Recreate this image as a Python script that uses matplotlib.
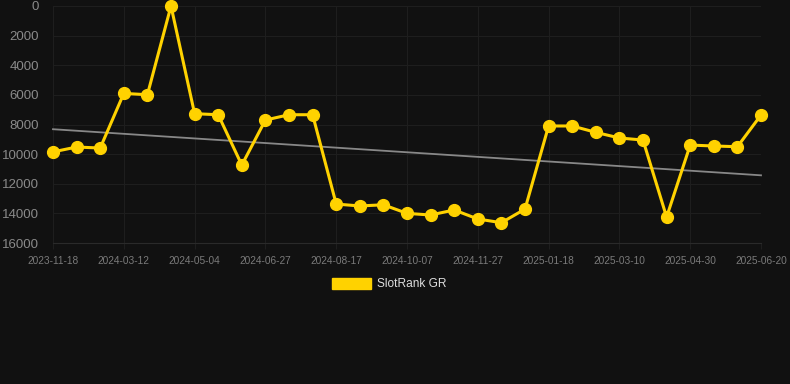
import numpy as np
import matplotlib
matplotlib.use('Agg')
import matplotlib.pyplot as plt
from matplotlib.patches import Patch

# dados (rank, eixo invertido)
rotulos = ['2023-11-18', '2024-03-12', '2024-05-04', '2024-06-27', '2024-08-17',
           '2024-10-07', '2024-11-27', '2025-01-18', '2025-03-10', '2025-04-30',
           '2025-06-20']
rank = [9850, 9520, 9590, 5900, 5990, 0, 7270, 7340, 10740, 7700, 7340,
        7340, 13370, 13500, 13420, 14000, 14110, 13770, 14380, 14630, 13710,
        8100, 8100, 8530, 8910, 9050, 14250, 9390, 9450, 9500, 7360]

plt.rcParams['font.family'] = ['Liberation Sans', 'DejaVu Sans']

x = np.arange(len(rank))
y = np.array(rank)

# linha de tendencia (minimos quadrados)
a, b = np.polyfit(x, y, 1)
tend = a * x + b

fig = plt.figure(figsize=(7.9, 3.84), dpi=100, facecolor='#111111')
ax = fig.add_axes([53 / 790, 1 - 243 / 384, (761 - 53) / 790, (243 - 6) / 384])
ax.set_facecolor('#111111')

ax.plot(x, tend, color='#888888', lw=1.3, zorder=2, clip_on=False)
ax.plot(x, y, color='#FFD200', lw=2.2, marker='o', ms=8.5, zorder=3,
        clip_on=False)

ax.set_xlim(0, len(rank) - 1)
ax.set_ylim(16000, 0)
ax.set_yticks(np.arange(0, 16001, 2000))
ax.set_xticks(x[::3])
ax.set_xticklabels(rotulos)

ax.grid(True, color='#1e1e1e', lw=0.8)
ax.set_axisbelow(True)
for s in ax.spines.values():
    s.set_visible(False)
ax.spines['bottom'].set_visible(True)
ax.spines['bottom'].set_color('#2a2a2a')
ax.tick_params(axis='y', length=0, pad=10, labelsize=9.5, labelcolor='#8a8a8a')
ax.tick_params(axis='x', length=4, color='#1e1e1e', pad=5, labelsize=7.3,
               labelcolor='#7a7a7a')

fig.legend(handles=[Patch(facecolor='#FFD200', edgecolor='#FFD200')],
           labels=['SlotRank GR'], loc='center',
           bbox_to_anchor=(389 / 790, 1 - 284 / 384), frameon=False,
           fontsize=8.6, labelcolor='#dddddd', handlelength=3.3,
           handleheight=1.1, handletextpad=0.5)

fig.savefig('out.png', dpi=100, facecolor='#111111')
